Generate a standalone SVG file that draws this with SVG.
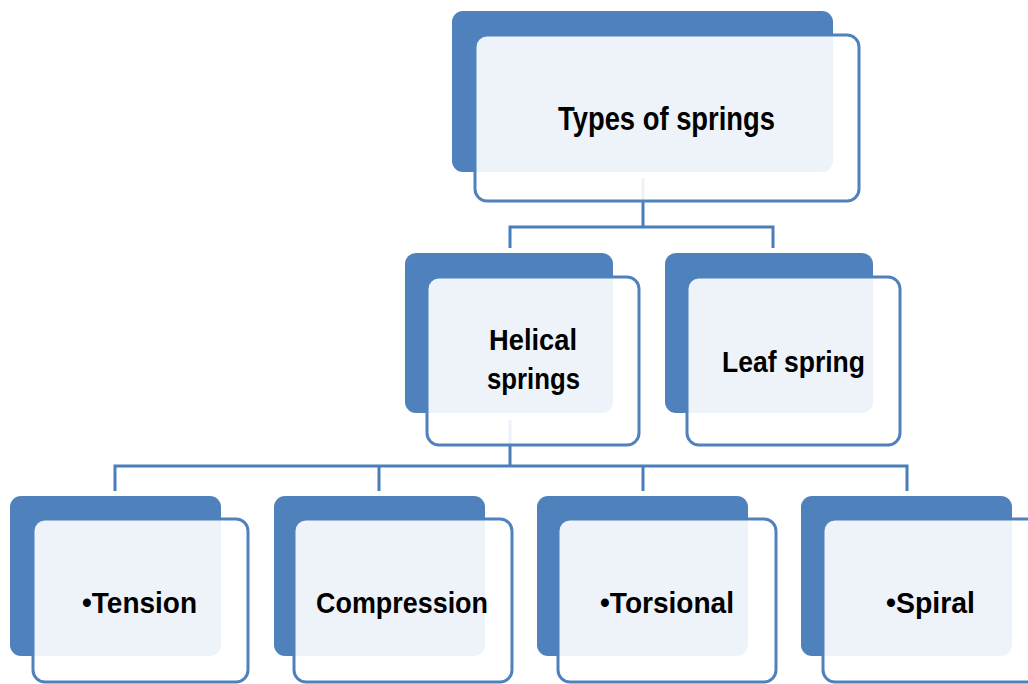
<svg xmlns="http://www.w3.org/2000/svg" width="1028" height="684" viewBox="0 0 1028 684">
<style>
.back{fill:#4F81BD}
.front{fill:#FFFFFF;fill-opacity:0.9;stroke:#4F81BD;stroke-width:3}
.conn{fill:none;stroke:#4A7EBB;stroke-width:3}
.lbl{font-family:"Liberation Sans",Arial,sans-serif;font-weight:bold;fill:#000;text-anchor:start}
</style>
<rect width="1028" height="684" fill="#FFFFFF"/>
<g id="connectors">
<path class="conn" d="M643 178 V227 M510 248 V227 H773 V248"/>
<path class="conn" d="M510 420 V466 M115 491 V466 H907 V491 M379 466 V491 M643 466 V491"/>
</g>
<g id="node-types">
<rect class="back" x="452" y="11" width="381" height="161" rx="11"/>
<rect class="front" x="475" y="35" width="384" height="166" rx="12"/>
<text class="lbl" x="558" y="130" font-size="34" textLength="217" lengthAdjust="spacingAndGlyphs">Types of springs</text>
</g>
<g id="node-helical">
<rect class="back" x="405" y="253" width="208" height="160" rx="11"/>
<rect class="front" x="427" y="277" width="212" height="168" rx="12"/>
<text class="lbl" x="489" y="350" font-size="29" textLength="88" lengthAdjust="spacingAndGlyphs">Helical</text>
<text class="lbl" x="487" y="389" font-size="29" textLength="93" lengthAdjust="spacingAndGlyphs">springs</text>
</g>
<g id="node-leaf">
<rect class="back" x="665" y="253" width="208" height="160" rx="11"/>
<rect class="front" x="687" y="277" width="213" height="168" rx="12"/>
<text class="lbl" x="722" y="372" font-size="29" textLength="143" lengthAdjust="spacingAndGlyphs">Leaf spring</text>
</g>
<g id="node-tension">
<rect class="back" x="10" y="496" width="211" height="160" rx="11"/>
<rect class="front" x="33" y="519" width="215" height="163" rx="12"/>
<text class="lbl" x="82" y="613" font-size="30" textLength="115" lengthAdjust="spacingAndGlyphs">•Tension</text>
</g>
<g id="node-compression">
<rect class="back" x="274" y="496" width="211" height="160" rx="11"/>
<rect class="front" x="294" y="519" width="218" height="163" rx="12"/>
<text class="lbl" x="316" y="613" font-size="30" textLength="172" lengthAdjust="spacingAndGlyphs">Compression</text>
</g>
<g id="node-torsional">
<rect class="back" x="537" y="496" width="211" height="160" rx="11"/>
<rect class="front" x="558" y="519" width="218" height="163" rx="12"/>
<text class="lbl" x="600" y="613" font-size="30" textLength="134" lengthAdjust="spacingAndGlyphs">•Torsional</text>
</g>
<g id="node-spiral">
<rect class="back" x="801" y="496" width="211" height="160" rx="11"/>
<rect class="front" x="823" y="519" width="218" height="163" rx="12"/>
<text class="lbl" x="886" y="613" font-size="30" textLength="89" lengthAdjust="spacingAndGlyphs">•Spiral</text>
</g>
</svg>
